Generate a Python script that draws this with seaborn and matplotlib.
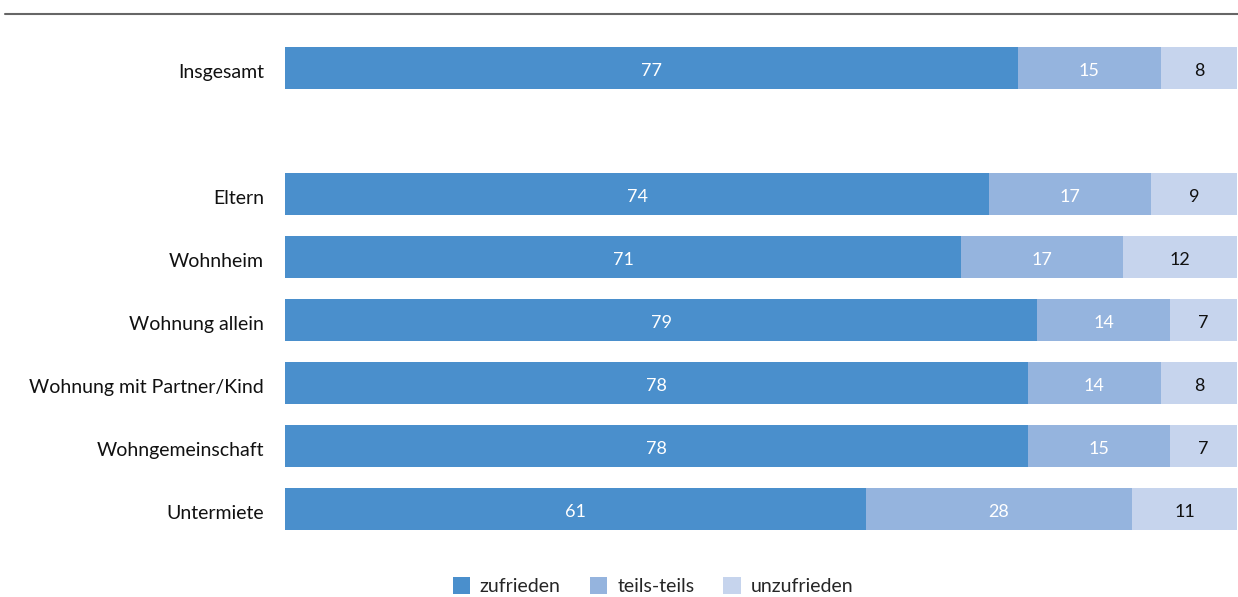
import matplotlib
matplotlib.use("Agg")
import matplotlib.pyplot as plt
import seaborn as sns
import pandas as pd
from matplotlib.patches import Patch

categories = ["Insgesamt", " ", "Eltern", "Wohnheim", "Wohnung allein",
              "Wohnung mit Partner/Kind", "Wohngemeinschaft", "Untermiete"]
zufrieden = [77, None, 74, 71, 79, 78, 78, 61]
teils = [15, None, 17, 17, 14, 14, 15, 28]
unzufrieden = [8, None, 9, 12, 7, 8, 7, 11]
series_names = ["zufrieden", "teils-teils", "unzufrieden"]

colors = ["#4a8fcc", "#95b4de", "#c6d4ed"]
label_colors = ["white", "white", "#111111"]

sns.set_theme(style="white")
plt.rcParams["font.family"] = ["Lato", "DejaVu Sans"]

rows = [(c, z, t, u) for c, z, t, u in zip(categories, zufrieden, teils, unzufrieden) if z is not None]
df = pd.DataFrame(rows, columns=["cat", "z", "t", "u"])
df["zt"] = df["z"] + df["t"]
df["ztu"] = df["zt"] + df["u"]

fig = plt.figure(figsize=(12.38, 5.97), dpi=100)
ax = fig.add_axes([285 / 1238, 1 - 540.5 / 597, 952 / 1238, 504 / 597])

# stacked bars drawn as overlapping cumulative totals
for col, color in zip(["ztu", "zt", "z"], colors[::-1]):
    sns.barplot(data=df, y="cat", x=col, order=categories, color=color,
                orient="h", width=0.67, saturation=1, ax=ax, edgecolor="none")

cat_pos = {c: i for i, c in enumerate(categories)}
for _, r in df.iterrows():
    y = cat_pos[r["cat"]]
    starts = [0, r["z"], r["zt"]]
    vals = [r["z"], r["t"], r["u"]]
    for s, v, lc in zip(starts, vals, label_colors):
        ax.text(s + v / 2, y + 0.04, f"{int(v)}", ha="center", va="center",
                color=lc, fontsize=13)

ax.set_xlim(0, 100)
ax.set_ylim(7.5, -0.5)
ax.set_xlabel("")
ax.set_ylabel("")
ax.set_xticks([])
ax.tick_params(axis="y", length=0, pad=15, labelsize=14, labelcolor="#111111")
shift = matplotlib.transforms.ScaledTranslation(0, -3 / 100, fig.dpi_scale_trans)
for t in ax.yaxis.get_major_ticks():
    t.label1.set_transform(t.label1.get_transform() + shift)
for s in ax.spines.values():
    s.set_visible(False)

# top rule
fig.add_artist(plt.Line2D([5 / 1238, 1], [1 - 14 / 597] * 2, color="#666666", lw=1.5))

handles = [Patch(facecolor=c, edgecolor="none", label=n) for c, n in zip(colors, series_names)]
fig.legend(handles=handles, loc="center", bbox_to_anchor=(653 / 1238, 1 - 586 / 597),
           ncol=3, frameon=False, fontsize=14, handlelength=0.9, handleheight=1.0,
           handletextpad=0.5, columnspacing=1.5)

fig.savefig("out.png", dpi=100)
